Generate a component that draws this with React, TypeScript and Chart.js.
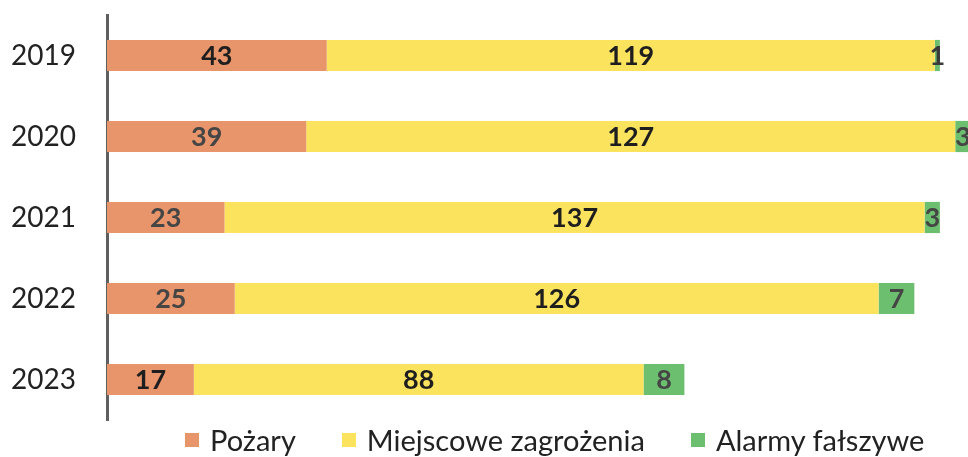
import React, { useEffect, useRef } from "react";
import { Chart, registerables } from "chart.js";

Chart.register(...registerables);

const years = ["2019", "2020", "2021", "2022", "2023"];
const pozary = [43, 39, 23, 25, 17];
const miejscowe = [119, 127, 137, 126, 88];
const alarmy = [1, 3, 3, 7, 8];
const seriesNames = ["Pożary", "Miejscowe zagrożenia", "Alarmy fałszywe"];
const seriesColors = ["#E8956B", "#FCE35E", "#6DBF70"];
const labelColors = [
  ["#1e1e1e", "#454545", "#454545", "#454545", "#1e1e1e"],
  ["#1e1e1e", "#1e1e1e", "#1e1e1e", "#1e1e1e", "#1e1e1e"],
  ["#3a3a3a", "#454545", "#454545", "#454545", "#454545"],
];

const valueLabels = {
  id: "valueLabels",
  afterDatasetsDraw(chart: any) {
    const ctx = chart.ctx;
    ctx.save();
    ctx.font = "bold 27px Lato";
    ctx.textAlign = "center";
    ctx.textBaseline = "middle";
    chart.data.datasets.forEach((ds: any, di: number) => {
      const meta = chart.getDatasetMeta(di);
      meta.data.forEach((bar: any, i: number) => {
        const v = ds.data[i];
        const cx = (bar.x + bar.base) / 2;
        ctx.fillStyle = labelColors[di][i];
        ctx.fillText(String(v), cx, bar.y + 1);
      });
    });
    ctx.restore();
  },
};

export default function App() {
  const ref = useRef<HTMLCanvasElement>(null);
  useEffect(() => {
    if (!ref.current) return;
    const data = [pozary, miejscowe, alarmy];
    const chart = new Chart(ref.current, {
      type: "bar",
      data: {
        labels: years,
        datasets: data.map((d, i) => ({
          label: seriesNames[i],
          data: d,
          backgroundColor: seriesColors[i],
          borderWidth: 0,
          categoryPercentage: 1,
          barPercentage: 0.385,
        })),
      },
      options: {
        indexAxis: "y",
        responsive: false,
        animation: false,
        layout: { padding: { top: 15, bottom: 37, left: 10, right: 0 } },
        plugins: {
          legend: { display: false },
          tooltip: { enabled: false },
        },
        scales: {
          x: {
            stacked: true,
            min: 0,
            max: 168.5,
            display: false,
          },
          y: {
            stacked: true,
            grid: { display: false, drawTicks: false },
            border: { display: true, color: "#5f5f5f", width: 3 },
            ticks: {
              color: "#222",
              font: { family: "Lato", size: 28 },
              padding: 31,
            },
            afterFit(scale: any) {
              scale.width = 97;
              scale.paddingTop = 0;
              scale.paddingBottom = 0;
            },
          },
        },
      },
      plugins: [valueLabels],
    });
    return () => chart.destroy();
  }, []);

  return (
    <div
      style={{
        position: "fixed",
        left: 0,
        top: 0,
        width: 968,
        height: 457,
        background: "#fff",
        overflow: "hidden",
      }}
    >
      <canvas ref={ref} width={968} height={457} />
      <div
        style={{
          position: "absolute",
          left: 185,
          top: 422,
          display: "flex",
          alignItems: "center",
          gap: 46,
          fontFamily: "Lato",
          fontSize: 29,
          color: "#222",
          whiteSpace: "nowrap",
        }}
      >
        {seriesNames.map((n, i) => (
          <div key={n} style={{ display: "flex", alignItems: "center" }}>
            <span
              style={{
                display: "inline-block",
                width: 14,
                height: 14,
                background: seriesColors[i],
                marginRight: 11,
              }}
            />
            <span>{n}</span>
          </div>
        ))}
      </div>
    </div>
  );
}
